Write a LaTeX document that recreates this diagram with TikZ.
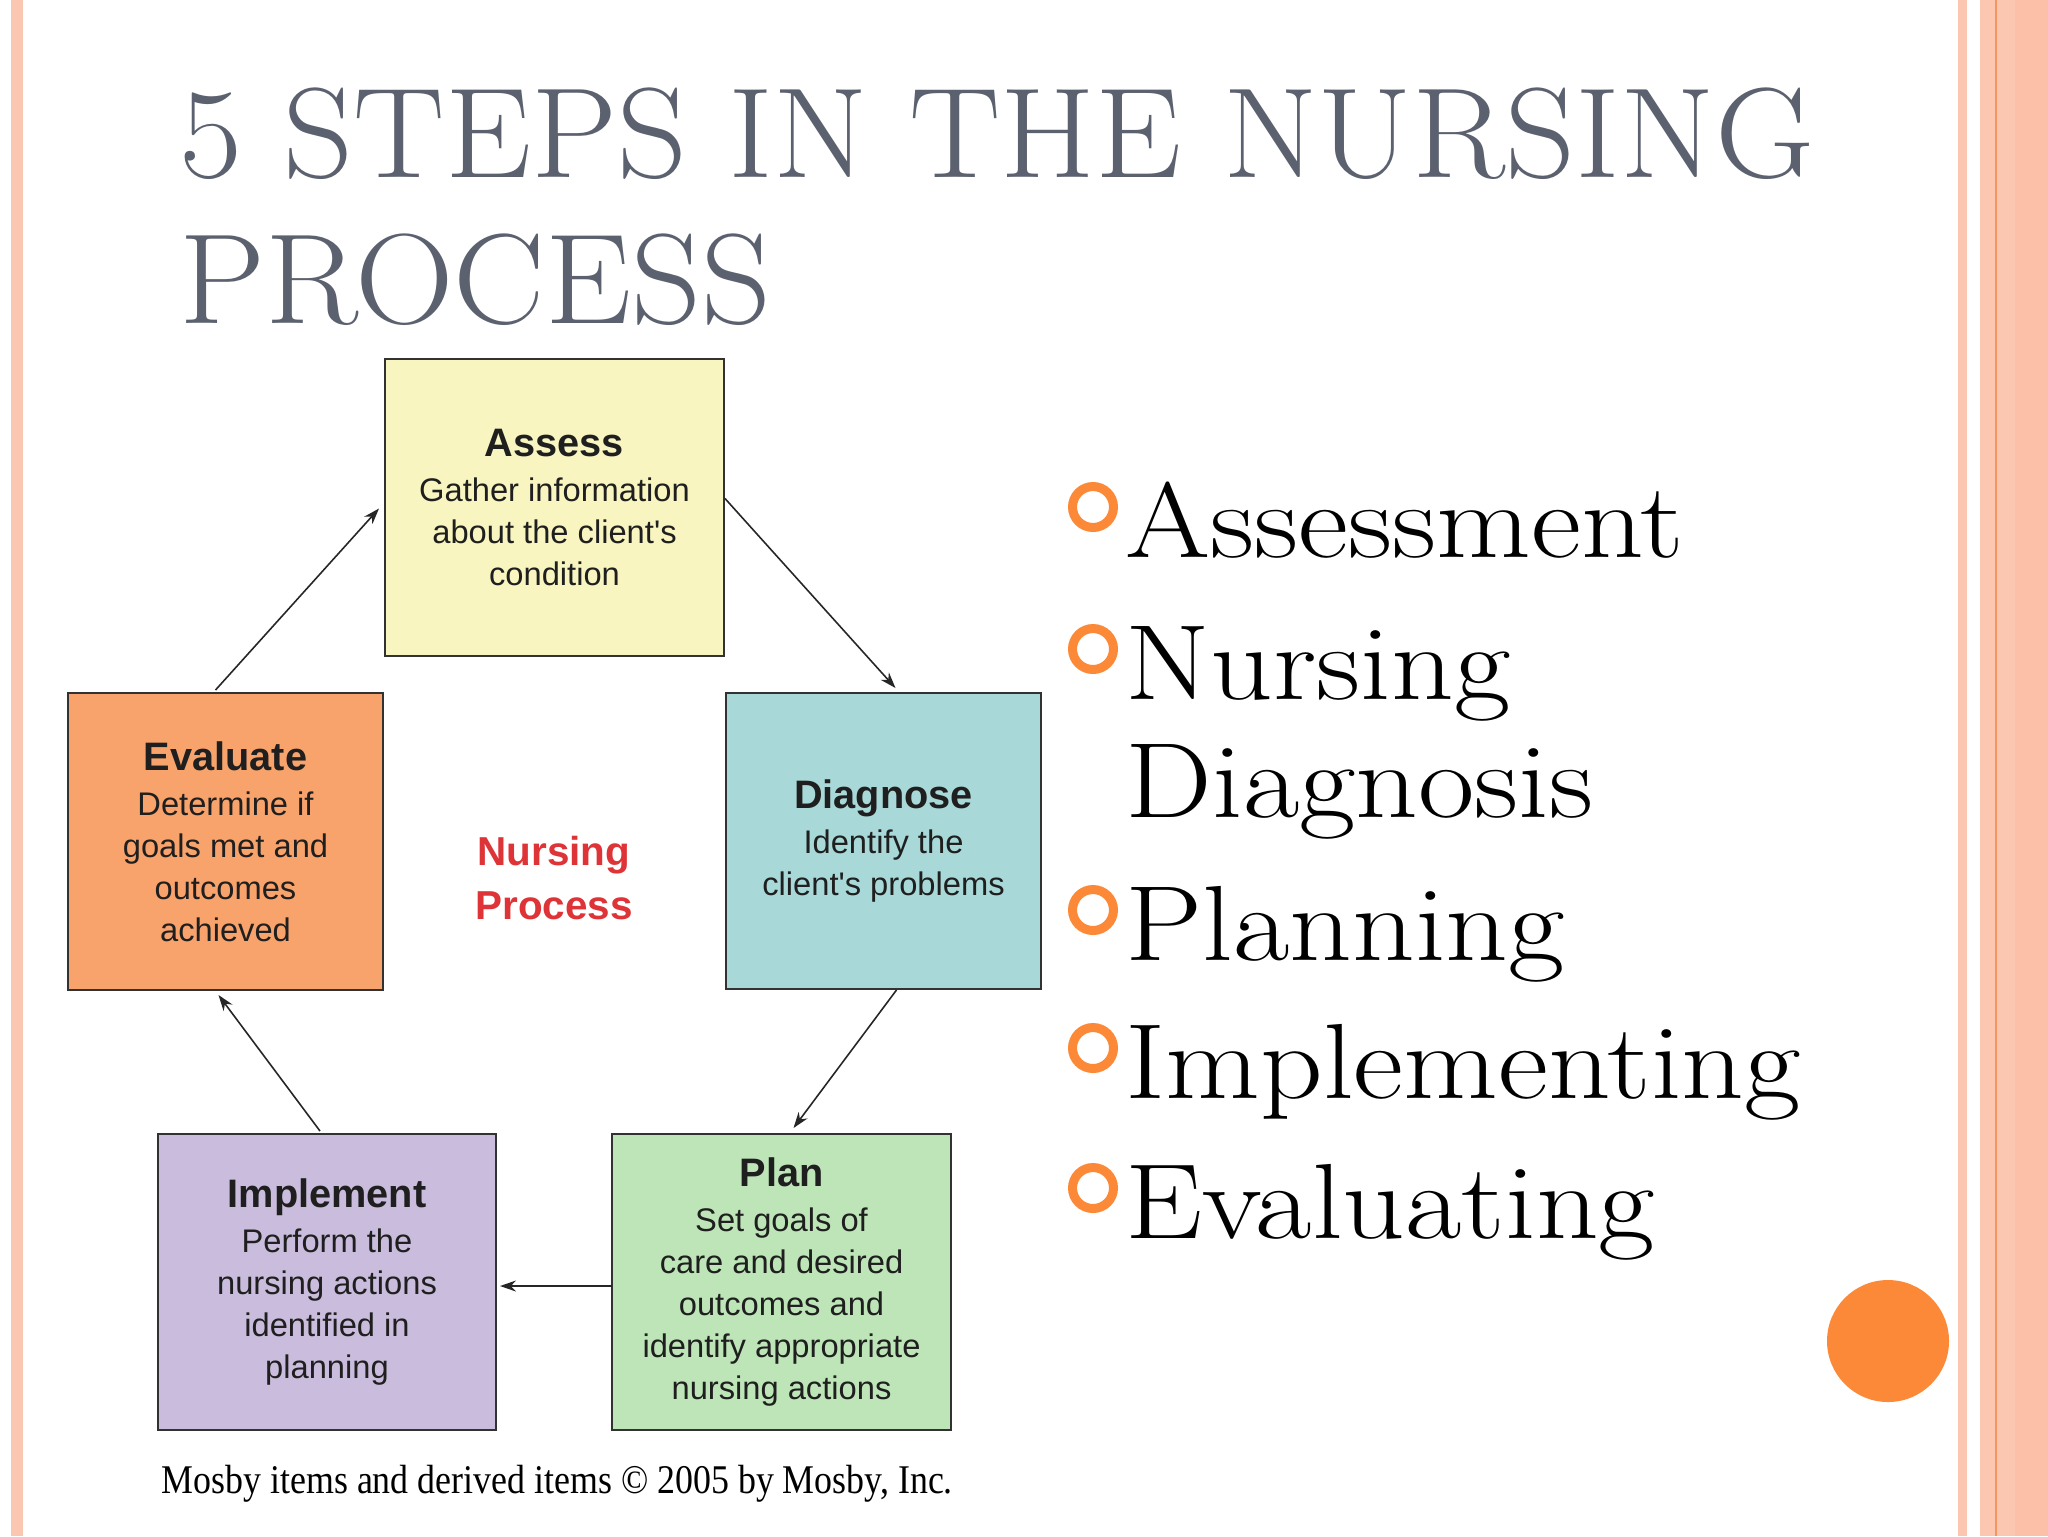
\documentclass[tikz,border=0pt]{standalone}
\usepackage{fontspec}
\newfontfamily\boxfont{Liberation Sans}
\newfontfamily\capfont{Liberation Serif}
\usetikzlibrary{arrows.meta,calc}
\definecolor{titlegray}{RGB}{92,97,112}
\definecolor{stripe}{RGB}{252,199,177}
\definecolor{stripedark}{RGB}{251,192,167}
\definecolor{orangeline}{RGB}{246,150,95}
\definecolor{bulletorange}{RGB}{251,137,56}
\definecolor{assessfill}{RGB}{248,245,192}
\definecolor{evalfill}{RGB}{248,163,108}
\definecolor{diagfill}{RGB}{168,216,216}
\definecolor{implfill}{RGB}{201,188,220}
\definecolor{planfill}{RGB}{189,229,183}
\definecolor{boxline}{RGB}{50,50,50}
\definecolor{npred}{RGB}{222,52,56}
\tikzset{
  stepbox/.style={draw=boxline, line width=0.6pt, inner sep=0pt, outer sep=0pt, align=center,
    font=\boxfont\fontsize{9.3}{11.95}\selectfont, text=black!88},
  flow/.style={draw=black!85, line width=0.45pt, -{Stealth[length=1.6mm,width=1.1mm]}},
  bullettext/.style={anchor=base west, inner sep=0pt, font=\fontsize{30.4}{36}\selectfont, text=black},
  bulletring/.style={draw=bulletorange, line width=0.9mm},
  titletext/.style={anchor=base west, inner sep=0pt, font=\fontsize{36.5}{44}\selectfont, text=titlegray}
}
\newcommand{\boxhead}[1]{{\fontsize{11.3}{13}\selectfont\bfseries #1}\\[1pt]}
\newcommand{\widetitle}[1]{\scalebox{1.067}[1]{#1}}
\newcommand{\widebullet}[1]{\scalebox{1.148}[1]{#1}}
\begin{document}
\begin{tikzpicture}[x=0.1mm,y=-0.1mm]
\useasboundingbox (0,0) rectangle (2048,1536);
\fill[white] (0,0) rectangle (2048,1536);
% border stripes
\fill[stripe] (11,0) rectangle (23,1536);
\fill[stripe] (1958,0) rectangle (1967,1536);
\fill[stripe] (1980,0) rectangle (2048,1536);
\fill[stripedark] (2015,0) rectangle (2048,1536);
\draw[orangeline, line width=0.15mm] (1996,0) -- (1996,1536);
% title
\node[titletext] (t1) at (179,177) {\widetitle{5 STEPS IN THE NURSING}};
\node[titletext] (t2) at (179,323) {\widetitle{PROCESS}};
% boxes
\node[stepbox, fill=assessfill, minimum width=33.9mm, minimum height=29.7mm] (assess) at (554.5,507.5)
  {\boxhead{Assess}Gather information\\about the client's\\condition};
\node[stepbox, fill=evalfill, minimum width=31.5mm, minimum height=29.7mm] (eval) at (225.5,841.5)
  {\boxhead{Evaluate}Determine if\\goals met and\\outcomes\\achieved};
\node[stepbox, fill=diagfill, minimum width=31.5mm, minimum height=29.6mm] (diag) at (883.5,841)
  {\boxhead{Diagnose}Identify the\\client's problems};
\node[stepbox, fill=implfill, minimum width=33.8mm, minimum height=29.6mm] (impl) at (327,1282)
  {\boxhead{Implement}Perform the\\nursing actions\\identified in\\planning};
\node[stepbox, fill=planfill, minimum width=33.9mm, minimum height=29.6mm] (plan) at (781.5,1282)
  {\boxhead{Plan}Set goals of\\care and desired\\outcomes and\\identify appropriate\\nursing actions};
\node[align=center, inner sep=0pt, text=npred, font=\boxfont\bfseries\fontsize{11.5}{15.6}\selectfont] (np) at (554,878)
  {Nursing\\Process};
% arrows
\draw[flow] ($(eval.north)+(-10,-3)$) -- ($(assess.west)+(-6,1)$);
\draw[flow] ($(assess.east)+(1,-9)$) -- ($(diag.north)+(12,-5)$);
\draw[flow] ($(diag.south)+(13,1)$) -- ($(plan.north)+(12,-6)$);
\draw[flow] ($(plan.west)+(0,4)$) -- ($(impl.east)+(4,4)$);
\draw[flow] ($(impl.north)+(-7,-3)$) -- ($(eval.south)+(-7,5)$);
% caption
\node[anchor=west, inner sep=0pt, font=\capfont\fontsize{11.6}{14}\selectfont] (cap) at (161,1484)
  {\scalebox{0.88}[1]{Mosby items and derived items \textcopyright{} 2005 by Mosby, Inc.}};
% bullets
\foreach \yy in {507,649,910,1048,1188} \draw[bulletring] (1093,\yy) circle (20.5);
\node[bullettext] (b1) at (1125,557) {\widebullet{Assessment}};
\node[bullettext] (b2) at (1125,699) {\widebullet{Nursing}};
\node[bullettext] (b2b) at (1125,817) {\widebullet{Diagnosis}};
\node[bullettext] (b3) at (1125,960) {\widebullet{Planning}};
\node[bullettext] (b4) at (1125,1098) {\widebullet{Implementing}};
\node[bullettext] (b5) at (1125,1238) {\widebullet{Evaluating}};
% decorative circle
\fill[bulletorange] (1888,1341) circle (61);
\end{tikzpicture}
\end{document}
